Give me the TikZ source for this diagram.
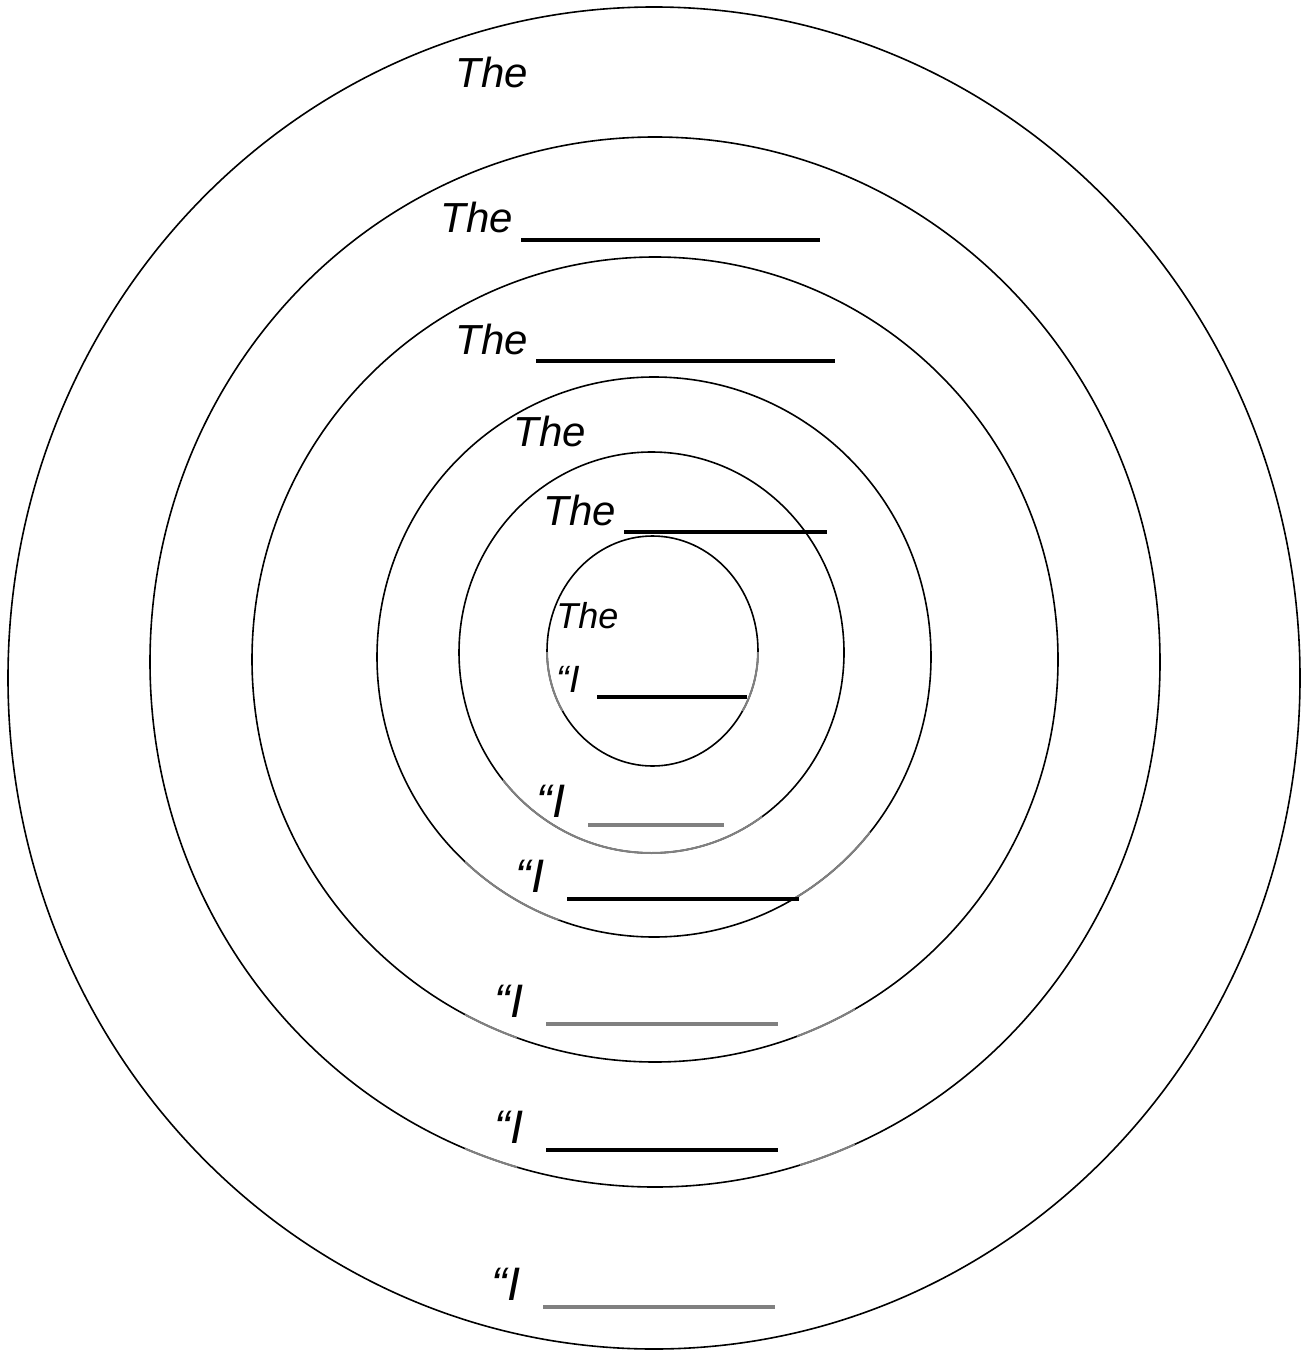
\documentclass[tikz,border=0pt]{standalone}
\usepackage{fontspec}
\setmainfont{Liberation Sans}
\usetikzlibrary{positioning}

\begin{document}
\begin{tikzpicture}[x=0.5pt,y=-0.5pt,
  ring/.style={draw=black,line width=0.8pt},
  paler/.style={draw=gray,line width=1pt},
  thelbl/.style={anchor=base west,inner sep=0pt,font=\fontsize{21}{25}\selectfont\itshape},
  smallthe/.style={anchor=base west,inner sep=0pt,font=\fontsize{18}{22}\selectfont\itshape},
  ilbl/.style={anchor=base west,inner sep=0pt,font=\fontsize{23.5}{28}\selectfont\itshape},
  smalli/.style={anchor=base west,inner sep=0pt,font=\fontsize{19}{23}\selectfont\itshape},
  blank/.style={draw=black,line width=2pt},
  gblank/.style={draw=gray,line width=2pt}
]
  \useasboundingbox (0,0) rectangle (1307,1353);

  % rings, outside in
  \draw[ring] (654,678)   ellipse [x radius=646,   y radius=671];
  \draw[ring] (655,662)   ellipse [x radius=505,   y radius=525];
  \draw[ring] (655,659.5) ellipse [x radius=403,   y radius=402.5];
  \draw[ring] (654,657)   ellipse [x radius=277,   y radius=280];
  \draw[ring] (651.5,652.5) ellipse [x radius=192.5, y radius=200.5];
  \draw[ring] (652.5,651) ellipse [x radius=105.5, y radius=115];

  % paler pieces of the rings
  \begin{scope}
    \clip (540,652) rectangle (770,710);
    \draw[paler] (652.5,651) ellipse [x radius=105.5, y radius=115];
  \end{scope}
  \begin{scope}
    \clip (503,775) rectangle (762,870);
    \draw[paler] (651.5,652.5) ellipse [x radius=192.5, y radius=200.5];
  \end{scope}
  \begin{scope}
    \clip (465,860) rectangle (560,920) (795,830) rectangle (870,920);
    \draw[paler] (654,657) ellipse [x radius=277, y radius=280];
  \end{scope}
  \begin{scope}
    \clip (465,1000) rectangle (517,1045) (797,1000) rectangle (855,1045);
    \draw[paler] (655,659.5) ellipse [x radius=403, y radius=402.5];
  \end{scope}
  \begin{scope}
    \clip (465,1128) rectangle (517,1170) (800,1128) rectangle (855,1170);
    \draw[paler] (655,662) ellipse [x radius=505, y radius=525];
  \end{scope}

  % labels
  \node[thelbl] (the1) at (455,88)  {The};
  \node[thelbl] (the2) at (440,233) {The};
  \node[thelbl] (the3) at (455,355) {The};
  \node[thelbl] (the4) at (513,446) {The};
  \node[thelbl] (the5) at (543,525) {The};
  \node[smallthe] (the6) at (556,628) {The};
  \node[smalli] (i6) at (556,692) {“I};
  \node[ilbl] (i5) at (536,817)  {“I};
  \node[ilbl] (i4) at (515,892)  {“I};
  \node[ilbl] (i3) at (494,1017) {“I};
  \node[ilbl] (i2) at (494,1143) {“I};
  \node[ilbl] (i1) at (491,1300) {“I};

  % blanks
  \draw[blank]  (521,240)  -- (820,240);
  \draw[blank]  (536,361)  -- (835,361);
  \draw[blank]  (624,532)  -- (827,532);
  \draw[blank]  (597,697)  -- (747,697);
  \draw[gblank] (588,825)  -- (724,825);
  \draw[blank]  (567,899)  -- (799,899);
  \draw[gblank] (546,1024) -- (778,1024);
  \draw[blank]  (546,1150) -- (778,1150);
  \draw[gblank] (543,1307) -- (775,1307);
\end{tikzpicture}
\end{document}
